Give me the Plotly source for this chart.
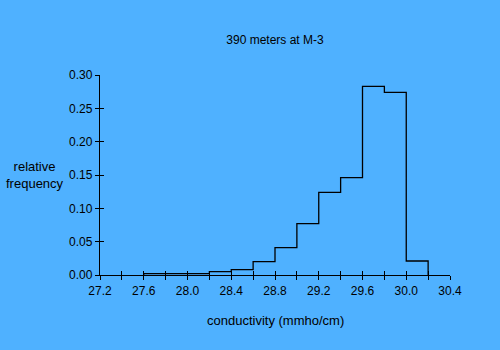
import plotly.graph_objects as go

# Histogram of conductivity readings (bin edges in mmho/cm)
bin_edges = [27.6, 27.8, 28.0, 28.2, 28.4, 28.6, 28.8, 29.0, 29.2, 29.4, 29.6, 29.8, 30.0, 30.2]
rel_freq = [0.002, 0.002, 0.002, 0.005, 0.008, 0.020, 0.041, 0.077, 0.124, 0.146, 0.283, 0.274, 0.021]

x_ticks = [27.2, 27.6, 28.0, 28.4, 28.8, 29.2, 29.6, 30.0, 30.4]
x_minor = [27.2 + 0.2 * i for i in range(17)]
y_ticks = [0.0, 0.05, 0.10, 0.15, 0.20, 0.25, 0.30]

bg = "#4FB1FF"
ink = "black"
font = dict(family="Arial, Liberation Sans, sans-serif", size=12, color=ink)
label_font = dict(family="Arial, Liberation Sans, sans-serif", size=13, color=ink)

# step outline: rise at the first edge, walk across bins, drop at the last edge
step_x = [bin_edges[0]] + bin_edges
step_y = [0] + rel_freq + [0]

fig = go.Figure()
fig.add_trace(go.Scatter(
    x=step_x, y=step_y, mode="lines",
    line=dict(color=ink, width=1.3, shape="hv"),
    hoverinfo="skip", showlegend=False,
))

axis_common = dict(showgrid=False, zeroline=False, showline=True,
                   linecolor=ink, linewidth=1.3, tickcolor=ink,
                   tickwidth=1, ticklen=4, tickfont=font)

fig.update_layout(
    width=500, height=350,
    margin=dict(l=100, r=50, t=75, b=75),
    paper_bgcolor=bg, plot_bgcolor=bg,
    font=font,
    title=dict(text="390 meters at M-3", x=0.55, xanchor="center",
               y=1 - 40 / 350, yanchor="middle", font=font),
    xaxis=dict(range=[27.2, 30.4], tickmode="array", tickvals=x_minor,
               ticktext=[f"{v:.1f}" if any(abs(v - t) < 1e-6 for t in x_ticks) else ""
                         for v in x_minor],
               ticks="outside", **axis_common),
    xaxis2=dict(range=[27.2, 30.4], overlaying="x", tickmode="array",
                tickvals=x_minor, ticks="inside", showticklabels=False,
                showgrid=False, zeroline=False, showline=False,
                tickcolor=ink, tickwidth=1, ticklen=4, side="bottom",
                anchor="y"),
    yaxis=dict(range=[0, 0.3], tickmode="array", tickvals=y_ticks,
               ticktext=[f"{v:.2f}" for v in y_ticks],
               ticks="outside", **axis_common),
    yaxis2=dict(range=[0, 0.3], overlaying="y", tickmode="array",
                tickvals=y_ticks, ticks="inside", showticklabels=False,
                showgrid=False, zeroline=False, showline=False,
                tickcolor=ink, tickwidth=1, ticklen=4, side="left",
                anchor="x"),
    annotations=[
        dict(text="relative<br>frequency", xref="paper", yref="paper",
             x=-65.5 / 350, y=0.5, xanchor="center", yanchor="middle",
             showarrow=False, font=label_font, align="center"),
        dict(text="conductivity (mmho/cm)", xref="paper", yref="paper",
             x=0.5, y=-45 / 200, xanchor="center", yanchor="middle",
             showarrow=False, font=label_font),
    ],
)

# invisible trace to activate the secondary (inside-tick) axes
fig.add_trace(go.Scatter(x=[27.2], y=[0], xaxis="x2", yaxis="y2",
                         mode="markers", marker=dict(opacity=0),
                         hoverinfo="skip", showlegend=False))

fig.write_html("out.html")
